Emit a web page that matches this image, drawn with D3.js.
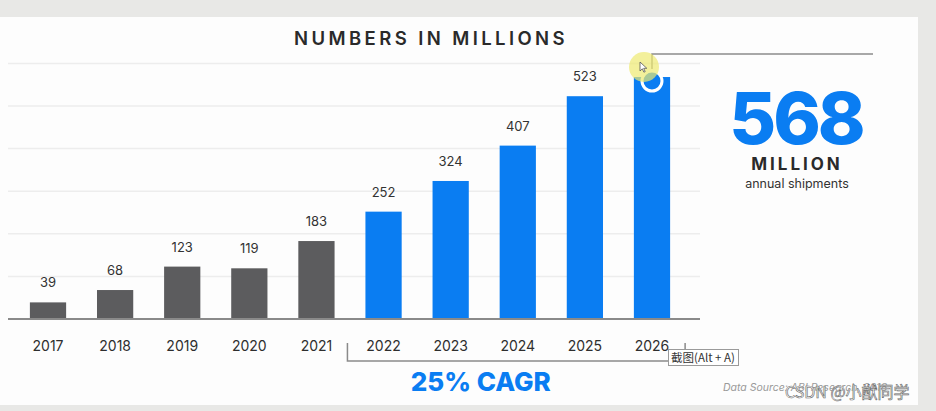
<!DOCTYPE html>
<html>
<head>
<meta charset="utf-8">
<script src="https://cdn.jsdelivr.net/npm/d3@7"></script>
<style>
	body { margin: 0; background: #e8e8e6; }
	svg { display: block; }
</style>
</head>
<body>
<div id="chart"></div>
<script>
var years = ['2017', '2018', '2019', '2020', '2021', '2022', '2023', '2024', '2025', '2026'];
var shipments = [39, 68, 123, 119, 183, 252, 324, 407, 523, 568];
var forecast = [false, false, false, false, false, true, true, true, true, true];
var grid_values = [100, 200, 300, 400, 500, 600];

var gray = '#5c5c5e';
var blue = '#0a7df2';
var font = 'Inter, "Open Sans", sans-serif';

var width = 936;
var height = 411;

var data = years.map(function(d, i) {
	return {year: d, value: shipments[i], forecast: forecast[i]};
});

var svg = d3.select('#chart')
	.append('svg')
	.attr('width', width)
	.attr('height', height);

// white card
svg.append('rect')
	.attr('x', 0)
	.attr('y', 17)
	.attr('width', 918)
	.attr('height', 388)
	.style('fill', '#fdfdfd');

var x = d3.scaleBand()
	.domain(years)
	.range([14.45, 685.55])
	.paddingInner(0.46)
	.paddingOuter(0.23);

var y = d3.scaleLinear()
	.domain([0, 600])
	.range([319, 63.4]);

// grid lines
svg.append('g')
	.selectAll('line')
	.data(grid_values)
	.enter()
	.append('line')
		.attr('x1', 8)
		.attr('x2', 700)
		.attr('y1', function(d) { return y(d); })
		.attr('y2', function(d) { return y(d); })
		.style('stroke', '#ededed')
		.style('stroke-width', 1.5);

// title
svg.append('text')
	.attr('x', 431)
	.attr('y', 45)
	.attr('text-anchor', 'middle')
	.text('NUMBERS IN MILLIONS')
	.style('font-family', font)
	.style('font-weight', 600)
	.style('font-size', '18.5px')
	.style('letter-spacing', '3.4px')
	.style('fill', '#2a2a2a');

// bars
svg.append('g')
	.selectAll('rect')
	.data(data)
	.enter()
	.append('rect')
		.attr('x', function(d) { return x(d.year); })
		.attr('y', function(d) { return y(d.value); })
		.attr('width', x.bandwidth())
		.attr('height', function(d) { return y(0) - y(d.value); })
		.style('fill', function(d) { return d.forecast ? blue : gray; });

// value labels (last bar carries the marker instead)
svg.append('g')
	.selectAll('text')
	.data(data.slice(0, -1))
	.enter()
	.append('text')
		.attr('x', function(d) { return x(d.year) + x.bandwidth() / 2; })
		.attr('y', function(d) { return y(d.value) - 15; })
		.attr('text-anchor', 'middle')
		.text(function(d) { return d.value; })
		.style('font-family', font)
		.style('font-size', '13px')
		.style('fill', '#333');

// x axis
var x_axis = svg.append('g')
	.attr('transform', 'translate(0,' + y(0) + ')')
	.call(d3.axisBottom(x).tickSize(0).tickPadding(22));
x_axis.select('.domain').remove();
x_axis.selectAll('text')
	.style('font-family', font)
	.style('font-size', '14px')
	.style('fill', '#2e2e2e');

svg.append('line')
	.attr('x1', 8)
	.attr('x2', 700)
	.attr('y1', y(0))
	.attr('y2', y(0))
	.style('stroke', '#8a8a8a')
	.style('stroke-width', 2);

// CAGR bracket
var bx0 = x('2022') - 18;
var bx1 = x('2026') + x.bandwidth() + 15;
svg.append('path')
	.attr('d', 'M' + bx0 + ',343V361H' + bx1 + 'V343')
	.style('fill', 'none')
	.style('stroke', '#8a8a8a')
	.style('stroke-width', 1.5);

svg.append('text')
	.attr('x', (x('2022') + x('2026') + x.bandwidth()) / 2 - 37)
	.attr('y', 391)
	.attr('text-anchor', 'middle')
	.text('25% CAGR')
	.style('font-family', font)
	.style('font-weight', 800)
	.style('font-size', '26px')
	.style('fill', blue);

// callout for the last bar
var last = data[data.length - 1];
var cx = x(last.year) + x.bandwidth() / 2;
svg.append('path')
	.attr('d', 'M' + cx + ',' + (y(last.value) - 8) + 'V54H873')
	.style('fill', 'none')
	.style('stroke', '#8c8c8c')
	.style('stroke-width', 1.5);

svg.append('circle')
	.attr('cx', cx)
	.attr('cy', y(last.value) + 4)
	.attr('r', 10)
	.style('fill', blue)
	.style('stroke', 'white')
	.style('stroke-width', 3);

// cursor highlight
svg.append('circle')
	.attr('cx', 644)
	.attr('cy', 67)
	.attr('r', 15)
	.style('fill', '#eeea70')
	.style('opacity', 0.7);
svg.append('path')
	.attr('d', 'M640,62l0,9l2.3,-2.2l1.6,3.4l1.3,-0.6l-1.5,-3.3l3.1,0z')
	.style('fill', 'white')
	.style('stroke', '#555')
	.style('stroke-width', 0.8);

svg.append('text')
	.attr('x', 796)
	.attr('y', 144)
	.attr('text-anchor', 'middle')
	.text(last.value)
	.style('font-family', font)
	.style('font-weight', 800)
	.style('font-size', '72px')
	.style('letter-spacing', '-3px')
	.style('fill', blue);

svg.append('text')
	.attr('x', 797)
	.attr('y', 170)
	.attr('text-anchor', 'middle')
	.text('MILLION')
	.style('font-family', font)
	.style('font-weight', 700)
	.style('font-size', '17px')
	.style('letter-spacing', '3px')
	.style('fill', '#2a2a2a');

svg.append('text')
	.attr('x', 797)
	.attr('y', 188)
	.attr('text-anchor', 'middle')
	.text('annual shipments')
	.style('font-family', font)
	.style('font-size', '12.5px')
	.style('fill', '#333');

// data source
svg.append('text')
	.attr('x', 723)
	.attr('y', 391)
	.text('Data Source: ABI Research, 2018')
	.style('font-family', font)
	.style('font-style', 'italic')
	.style('font-size', '10.5px')
	.style('fill', '#9a9a9a');

// screenshot tooltip
svg.append('rect')
	.attr('x', 668.5)
	.attr('y', 349.5)
	.attr('width', 70)
	.attr('height', 16)
	.style('fill', 'white')
	.style('stroke', '#9a9a9a')
	.style('stroke-width', 1);
svg.append('text')
	.attr('x', 671)
	.attr('y', 362)
	.text('截图(Alt + A)')
	.style('font-family', '"Noto Sans CJK SC", sans-serif')
	.style('font-size', '11.5px')
	.style('fill', '#333');

// watermark
svg.append('text')
	.attr('x', 785)
	.attr('y', 398)
	.text('CSDN @小猷同学')
	.style('font-family', '"Noto Sans CJK SC", sans-serif')
	.style('font-size', '16px')
	.style('fill', 'white')
	.style('stroke', '#666')
	.style('stroke-width', 0.6);
</script>
</body>
</html>
